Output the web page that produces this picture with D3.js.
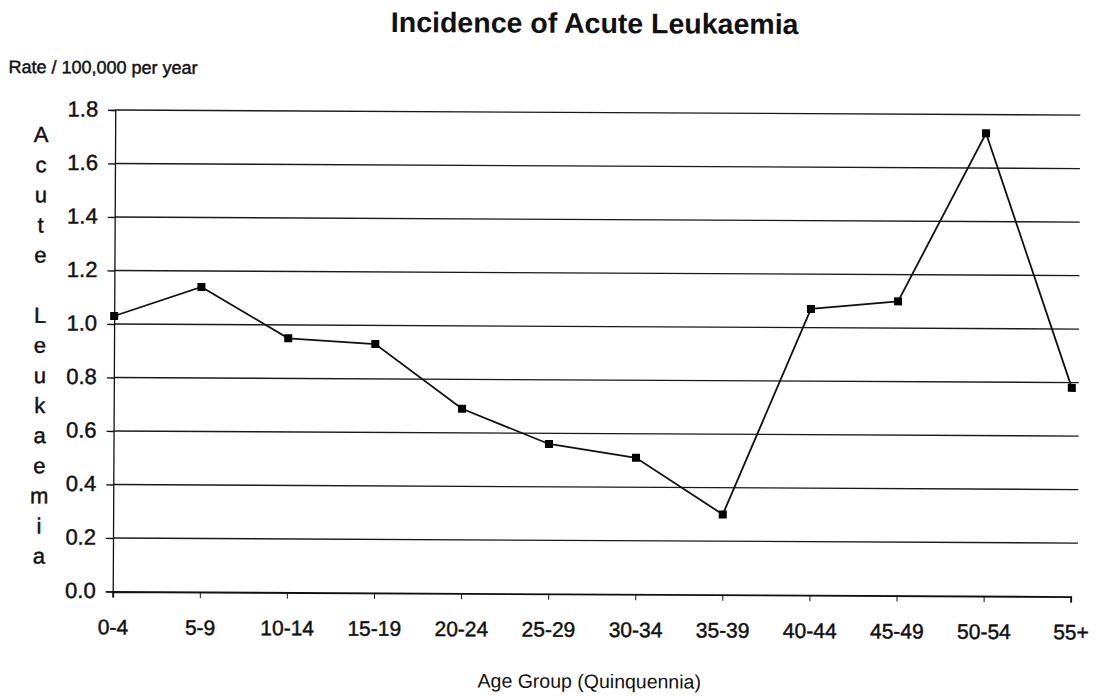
<!DOCTYPE html>
<html>
<head>
<meta charset="utf-8">
<script src="https://cdn.jsdelivr.net/npm/d3@7"></script>
<style>
  html, body { margin: 0; padding: 0; background: #fff; }
  svg { display: block; }
  text { font-family: "Liberation Sans", Arial, Helvetica, sans-serif; fill: #111; }
  .heavy { stroke: #111; stroke-width: 0.45px; }
</style>
</head>
<body>
<svg id="chart" width="1099" height="697"></svg>
<script>
// ---- data ----
const ageGroups = ["0-4","5-9","10-14","15-19","20-24","25-29","30-34","35-39","40-44","45-49","50-54","55+"];
const rates = [1.03, 1.14, 0.95, 0.93, 0.69, 0.56, 0.51, 0.30, 1.07, 1.10, 1.73, 0.78];
const yTicks = [0.0, 0.2, 0.4, 0.6, 0.8, 1.0, 1.2, 1.4, 1.6, 1.8];
const titleText = "Incidence of Acute Leukaemia";
const unitText = "Rate / 100,000 per year";
const yTitle = "Acute Leukaemia";
const xTitle = "Age Group (Quinquennia)";

// ---- layout ----
const W = 1099, H = 697;
const plotLeft = 114, plotRight = 1072, gridRight = 1079, plotTop = 112.5, plotBottom = 594;

const svg = d3.select("#chart");
svg.append("rect").attr("width", W).attr("height", H).attr("fill", "#fff");

// slight scan rotation of the original
const g = svg.append("g").attr("transform", "rotate(0.3, 590, 350)");

const x = d3.scalePoint().domain(ageGroups).range([plotLeft, plotRight]).padding(0);
const y = d3.scaleLinear().domain([0, 1.8]).range([plotBottom, plotTop]);

// gridlines
g.append("g").selectAll("line").data(yTicks.filter(d => d > 0)).join("line")
  .attr("x1", plotLeft).attr("x2", gridRight)
  .attr("y1", d => y(d)).attr("y2", d => y(d))
  .attr("stroke", "#1a1a1a").attr("stroke-width", 1.3);

// y axis
const yAxis = d3.axisLeft(y).tickValues(yTicks).tickFormat(d3.format(".1f")).tickSize(7).tickPadding(10);
const ya = g.append("g").attr("transform", `translate(${plotLeft},0)`).call(yAxis);
ya.select(".domain").attr("stroke", "#111").attr("stroke-width", 1.3);
ya.selectAll(".tick line").attr("stroke", "#111").attr("stroke-width", 1.3);
ya.selectAll(".tick text").attr("font-size", 22).attr("dy", "0.28em").attr("class", "heavy")
  .style("font-family", "'Liberation Sans', Arial, sans-serif").attr("fill", "#111");

// x axis
const xAxis = d3.axisBottom(x).tickSize(6).tickPadding(22);
const xa = g.append("g").attr("transform", `translate(0,${plotBottom})`).call(xAxis);
xa.select(".domain").attr("stroke", "#111").attr("stroke-width", 1.8);
xa.selectAll(".tick line").attr("stroke", "#111").attr("stroke-width", 1);
xa.selectAll(".tick text").attr("font-size", 21).attr("class", "heavy")
  .style("font-family", "'Liberation Sans', Arial, sans-serif").attr("fill", "#111");

// line
const line = d3.line().x((d, i) => x(ageGroups[i])).y(d => y(d));
g.append("path").datum(rates).attr("d", line)
  .attr("fill", "none").attr("stroke", "#111").attr("stroke-width", 1.8);

// markers
g.append("g").selectAll("rect").data(rates).join("rect")
  .attr("x", (d, i) => x(ageGroups[i]) - 4)
  .attr("y", d => y(d) - 4)
  .attr("width", 8).attr("height", 8)
  .attr("fill", "#000");

// title
g.append("text").attr("x", 593).attr("y", 33).attr("text-anchor", "middle")
  .attr("font-size", 28.5).attr("font-weight", "bold").text(titleText);

// unit label
g.append("text").attr("x", 7).attr("y", 76).attr("font-size", 18).attr("class", "heavy").text(unitText);

// vertical stacked y title
const letters = yTitle.split("");
g.append("g").selectAll("text").data(letters).join("text")
  .attr("x", 40).attr("y", (d, i) => 145 + i * 30.1)
  .attr("text-anchor", "middle").attr("font-size", 22).attr("class", "heavy")
  .text(d => d);

// x title
g.append("text").attr("x", 591).attr("y", 688).attr("text-anchor", "middle")
  .attr("font-size", 19.5).text(xTitle);
</script>
</body>
</html>
